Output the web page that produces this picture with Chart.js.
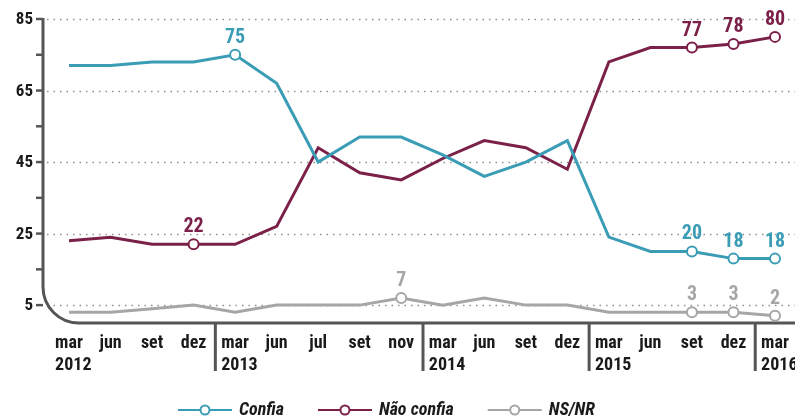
<!DOCTYPE html>
<html>
<head>
<meta charset="utf-8">
<script src="https://cdn.jsdelivr.net/npm/chart.js@4.4.1/dist/chart.umd.min.js"></script>
<style>
	html, body { margin: 0; padding: 0; background: #fff; }
</style>
</head>
<body>
<canvas id="myChart" width="795" height="416"></canvas>
<script>
var months = ['mar', 'jun', 'set', 'dez', 'mar', 'jun', 'jul', 'set', 'nov', 'mar', 'jun', 'set', 'dez', 'mar', 'jun', 'set', 'dez', 'mar']
var years = ['2012', '', '', '', '2013', '', '', '', '', '2014', '', '', '', '2015', '', '', '', '2016']
var confia = [72, 72, 73, 73, 75, 67, 45, 52, 52, 47, 41, 45, 51, 24, 20, 20, 18, 18]
var naoConfia = [23, 24, 22, 22, 22, 27, 49, 42, 40, 46, 51, 49, 43, 73, 77, 77, 78, 80]
var nsnr = [3, 3, 4, 5, 3, 5, 5, 5, 7, 5, 7, 5, 5, 3, 3, 3, 3, 2]
var yTicks = [85, 75, 65, 55, 45, 35, 25, 15, 5]
var yLabels = [85, 65, 45, 25, 5]
var markedConfia = [4, 15, 16, 17]
var markedNao = [3, 15, 16, 17]
var markedNs = [8, 15, 16, 17]

var tealColor = '#3a9db5'
var wineColor = '#7b2149'
var greyColor = '#a6a6a6'
var axisColor = '#555555'
var textColor = '#1a1a1a'
var fontFamily = 'Roboto, "Open Sans", sans-serif'

function setFont(ctx, font) {
	ctx.font = font + ' ' + fontFamily
	ctx.fontStretch = 'condensed'
}

function radiusFor(marked) {
	return function(c) { return marked.indexOf(c.dataIndex) >= 0 ? 5 : 0 }
}

function makeSet(label, values, color, marked) {
	return {
		label: label,
		data: values,
		borderColor: color,
		borderWidth: 3,
		tension: 0,
		fill: false,
		clip: false,
		pointRadius: radiusFor(marked),
		pointHoverRadius: radiusFor(marked),
		pointBackgroundColor: '#fff',
		pointBorderColor: color,
		pointBorderWidth: 2,
		marked: marked
	}
}

var decorations = {
	id: 'decorations',
	beforeDatasetsDraw: function(chart) {
		var ctx = chart.ctx
		var xs = chart.scales.x
		var ys = chart.scales.y
		var axX = 43
		var top = ys.getPixelForValue(85)
		var bottom = ys.getPixelForValue(0)
		ctx.save()

		// dotted grid
		ctx.strokeStyle = '#8f8f8f'
		ctx.lineWidth = 1.5
		ctx.setLineDash([1.5, 5])
		yLabels.forEach(function(v) {
			var y = Math.round(ys.getPixelForValue(v)) + 0.5
			ctx.beginPath()
			ctx.moveTo(axX + 4, y)
			ctx.lineTo(795, y)
			ctx.stroke()
		})
		ctx.setLineDash([])

		// axis with rounded corner
		ctx.strokeStyle = axisColor
		ctx.lineWidth = 3
		var r = 36
		ctx.beginPath()
		ctx.moveTo(axX, top - 1)
		ctx.lineTo(axX, bottom - r)
		ctx.arcTo(axX, bottom, axX + r, bottom, r)
		ctx.lineTo(795, bottom)
		ctx.stroke()

		// y ticks
		ctx.lineWidth = 2.5
		yTicks.forEach(function(v) {
			var y = ys.getPixelForValue(v)
			ctx.beginPath()
			ctx.moveTo(axX - 7, y)
			ctx.lineTo(axX, y)
			ctx.stroke()
		})

		// y labels
		ctx.fillStyle = textColor
		setFont(ctx, 'bold 17px')
		ctx.textAlign = 'right'
		ctx.textBaseline = 'middle'
		yLabels.forEach(function(v) {
			ctx.fillText(v, 33, ys.getPixelForValue(v) + 1)
		})

		// year separators
		ctx.lineWidth = 3
		for (var i = 1; i < years.length; i++) {
			if (!years[i]) continue
			var sx = (xs.getPixelForValue(i - 1) + xs.getPixelForValue(i)) / 2 + 1
			ctx.beginPath()
			ctx.moveTo(sx, bottom)
			ctx.lineTo(sx, 371)
			ctx.stroke()
		}

		// month + year labels
		setFont(ctx, 'bold 18px')
		ctx.textBaseline = 'alphabetic'
		months.forEach(function(m, i) {
			var x = xs.getPixelForValue(i)
			var w = ctx.measureText(m).width
			ctx.textAlign = 'center'
			ctx.fillText(m, x, 348)
			if (years[i]) {
				ctx.textAlign = 'left'
				ctx.fillText(years[i], x - w / 2, 370)
			}
		})
		ctx.restore()
	},
	afterDatasetsDraw: function(chart) {
		var ctx = chart.ctx
		ctx.save()
		setFont(ctx, 'bold 20px')
		ctx.textAlign = 'center'
		ctx.textBaseline = 'alphabetic'
		chart.data.datasets.forEach(function(ds, di) {
			var meta = chart.getDatasetMeta(di)
			ctx.fillStyle = ds.borderColor
			ds.marked.forEach(function(i) {
				var p = meta.data[i]
				ctx.fillText(ds.data[i], p.x, p.y - 12)
			})
		})
		ctx.restore()
	},
	afterDraw: function(chart) {
		var ctx = chart.ctx
		ctx.save()
		setFont(ctx, 'italic bold 18px')
		ctx.textBaseline = 'alphabetic'
		ctx.textAlign = 'left'
		var x = 178
		var y = 410
		chart.data.datasets.forEach(function(ds) {
			ctx.strokeStyle = ds.borderColor
			ctx.lineWidth = 2
			ctx.beginPath()
			ctx.moveTo(x, y)
			ctx.lineTo(x + 54, y)
			ctx.stroke()
			ctx.beginPath()
			ctx.arc(x + 27, y, 4.5, 0, Math.PI * 2)
			ctx.fillStyle = '#fff'
			ctx.fill()
			ctx.stroke()
			ctx.fillStyle = textColor
			ctx.fillText(ds.label, x + 61, y + 5)
			x += 61 + ctx.measureText(ds.label).width + 34
		})
		ctx.restore()
	}
}

var ctx = document.getElementById('myChart')
var lineChart = new Chart(ctx, {
	type: 'line',
	data: {
		labels: months,
		datasets: [
			makeSet('Confia', confia, tealColor, markedConfia),
			makeSet('Não confia', naoConfia, wineColor, markedNao),
			makeSet('NS/NR', nsnr, greyColor, markedNs)
		]
	},
	options: {
		responsive: false,
		devicePixelRatio: 1,
		animation: false,
		layout: { padding: { left: 69, right: 20, top: 19, bottom: 93 } },
		scales: {
			x: { type: 'category', offset: false, display: false },
			y: { min: 0, max: 85, display: false }
		},
		plugins: {
			legend: { display: false },
			tooltip: { enabled: false }
		}
	},
	plugins: [decorations]
})
</script>
</body>
</html>
